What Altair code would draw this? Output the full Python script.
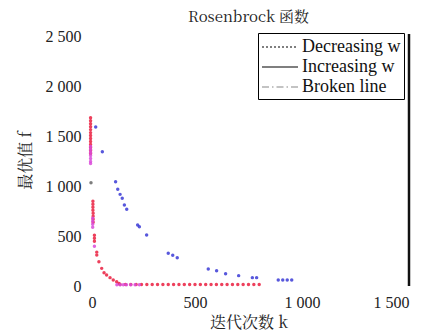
import altair as alt
import pandas as pd

# Decreasing w (blue points)
dec_x = [36, 67, 129, 139, 150, 160, 170, 181, 232, 240, 274, 375, 396, 417,
         562, 601, 643, 704, 768, 788, 889, 910, 931, 952]
dec_y = [1596, 1348, 1047, 971, 920, 880, 813, 770, 612, 595, 512, 328, 308, 284,
         171, 154, 124, 104, 84, 84, 60, 60, 60, 60]

# Increasing w (red points)
inc_x = [12, 12, 12, 12, 12, 12, 12, 12, 12, 12, 12, 12, 12,
         23, 23, 23, 23, 24, 24, 24, 24,
         30, 30, 30, 41, 41, 51, 64, 75, 87, 103, 118, 134, 145,
         150, 175, 200, 225, 250, 275, 300, 325, 350, 375, 400, 425, 450,
         475, 500, 525, 550, 575, 600, 625, 650, 675, 700, 725, 750, 775, 800]
inc_y = [1690, 1660, 1630, 1600, 1570, 1540, 1510, 1480, 1450, 1420, 1390, 1360, 1330,
         850, 820, 790, 760, 730, 700, 670, 640,
         510, 480, 450, 340, 310, 244, 177, 134, 110, 84, 60, 43, 25,
         15, 15, 15, 15, 15, 15, 15, 15, 15, 15, 15, 15, 15,
         15, 15, 15, 15, 15, 15, 15, 15, 15, 15, 15, 15, 15, 15]

# Broken line (magenta points)
brk_x = [12, 12, 12, 12, 12, 12, 12, 22, 22, 22, 22, 30,
         135, 150, 165, 180, 200, 220, 240]
brk_y = [1400, 1370, 1340, 1310, 1280, 1250, 1230, 680, 650, 620, 590, 400,
         12, 12, 12, 12, 12, 12, 12]

# stray dark point
odd_x = [14]
odd_y = [1037]

series_names = ["Decreasing w", "Increasing w", "Broken line"]
frame_x = [1500]

x_ticks = [0, 500, 1000, 1500]
y_ticks = [0, 500, 1000, 1500, 2000, 2500]

rows = []
for n, xs, ys in [(series_names[0], dec_x, dec_y), (series_names[1], inc_x, inc_y),
                  (series_names[2], brk_x, brk_y), ("other", odd_x, odd_y)]:
    for a, b in zip(xs, ys):
        rows.append({"series": n, "k": a, "f": b})
df = pd.DataFrame(rows)
df_leg = df[df.series != "other"]

NUMFONT = "Liberation Serif"
CJKFONT = "Noto Serif CJK SC"
lab_expr = "replace(format(datum.value, ','), ',', ' ')"

xenc = alt.X("k:Q", scale=alt.Scale(domain=[0, 1500], nice=False),
             axis=alt.Axis(values=x_ticks, title="迭代次数 k", grid=False, domain=False,
                           ticks=False, labelPadding=8, titlePadding=4, labelExpr=lab_expr))
yenc = alt.Y("f:Q", scale=alt.Scale(domain=[0, 2530], nice=False),
             axis=alt.Axis(values=y_ticks, title="最优值 f", grid=False, domain=False,
                           ticks=False, labelPadding=7, titlePadding=12, labelExpr=lab_expr))

points = alt.Chart(df).mark_circle(size=12, opacity=0.85).encode(
    x=xenc, y=yenc,
    color=alt.Color("series:N", legend=None,
                    scale=alt.Scale(domain=series_names + ["other"],
                                    range=["#3b3bd6", "#ea1f3f", "#d94ad9", "#666666"])),
)

leg = dict(title=None, orient="none", legendX=170, legendY=-1,
           symbolType="M-1,0H2.6", symbolSize=400, symbolFillColor="transparent",
           symbolStrokeWidth=1.2, symbolOpacity=1,
           labelFont=NUMFONT, labelFontSize=18,
           labelColor="#111", strokeColor="#000",
           padding=3, rowPadding=0, labelOffset=19,
           fillColor="white")

legend_lines = alt.Chart(df_leg).mark_line(opacity=0).encode(
    x="k:Q", y="f:Q",
    stroke=alt.Stroke("series:N", scale=alt.Scale(domain=series_names,
                                                  range=["#000000", "#000000", "#888888"]),
                      legend=alt.Legend(**leg)),
    strokeDash=alt.StrokeDash("series:N", scale=alt.Scale(domain=series_names,
                                                          range=[[2, 2], [1, 0], [7, 3, 1.5, 3]]),
                              legend=alt.Legend(**leg)),
)

frame = alt.Chart(pd.DataFrame({"fx": frame_x})).mark_rule(color="#111", strokeWidth=2.5).encode(
    x=alt.X("fx:Q")
)

chart = alt.layer(points, legend_lines, frame).properties(
    width=321, height=252,
    title=alt.TitleParams("Rosenbrock 函数", font=CJKFONT, fontSize=15, fontWeight="normal",
                          color="#222", offset=4),
    autosize=alt.AutoSizeParams(type="none"),
    padding={"left": 80, "top": 26, "right": 7, "bottom": 47},
).configure_axis(
    labelFont=NUMFONT, labelFontSize=16, labelColor="#222",
    titleFont=CJKFONT, titleFontSize=16, titleFontWeight="normal", titleColor="#222",
).configure_view(stroke=None)

chart.save("out.html", embed_options={"renderer": "svg", "actions": False})
